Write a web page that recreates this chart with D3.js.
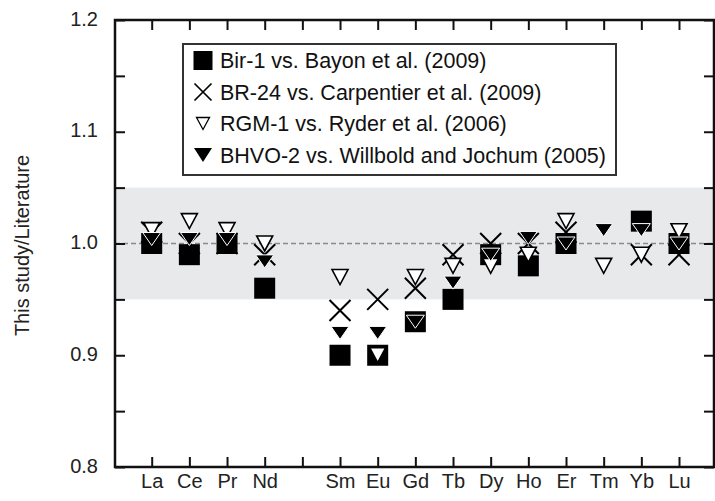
<!DOCTYPE html>
<html>
<head>
<meta charset="utf-8">
<script src="https://cdn.jsdelivr.net/npm/d3@7"></script>
<style>
  html, body { margin: 0; padding: 0; background: #fff; }
  svg { display: block; font-family: "Liberation Sans", Arial, sans-serif; }
</style>
</head>
<body>
<svg id="chart" width="715" height="501"></svg>
<script>
// ---- data ----
const categories = ["La","Ce","Pr","Nd","Pm","Sm","Eu","Gd","Tb","Dy","Ho","Er","Tm","Yb","Lu"];
const tickLabels = ["La","Ce","Pr","Nd","","Sm","Eu","Gd","Tb","Dy","Ho","Er","Tm","Yb","Lu"];
const bir1   = [1.00, 0.99, 1.00, 0.96, null, 0.90, 0.90, 0.93, 0.95, 0.99, 0.98, 1.00, null, 1.02, 1.00];
const br24   = [1.01, 1.00, 1.00, 0.99, null, 0.94, 0.95, 0.96, 0.99, 1.00, 1.00, 1.01, null, 0.99, 0.99];
const rgm1   = [1.012, 1.02, 1.012, 1.00, null, 0.97, 0.90, 0.97, 0.98, 0.98, 0.99, 1.02, 0.98, 0.99, 1.011];
const bhvo2  = [1.004, 1.004, 1.004, 0.984, null, 0.92, 0.92, 0.93, 0.965, 0.99, 1.005, 1.00, 1.012, 1.012, 1.00];
const seriesNames = [
  "Bir-1 vs. Bayon et al. (2009)",
  "BR-24 vs. Carpentier et al. (2009)",
  "RGM-1 vs. Ryder et al. (2006)",
  "BHVO-2 vs. Willbold and Jochum (2005)"
];
const yTicks = [0.8, 0.9, 1.0, 1.1, 1.2];
const yMinorTicks = [0.8, 0.85, 0.9, 0.95, 1.0, 1.05, 1.1, 1.15, 1.2];
const bandRange = [0.95, 1.05];
const refValue = 1.0;

// ---- layout ----
const svg = d3.select("#chart");
const L = 115, R = 714, T = 20, B = 467;
const x = d3.scalePoint().domain(categories).range([151.7, 679]);
const y = d3.scaleLinear().domain([0.8, 1.2]).range([B, T]);

// band
svg.append("rect")
  .attr("x", L).attr("width", R - L)
  .attr("y", y(bandRange[1])).attr("height", y(bandRange[0]) - y(bandRange[1]))
  .attr("fill", "#e8e9eb");

// dashed reference line
svg.append("line")
  .attr("x1", L).attr("x2", R)
  .attr("y1", y(refValue)).attr("y2", y(refValue))
  .attr("stroke", "#8a8a8a").attr("stroke-width", 1.5)
  .attr("stroke-dasharray", "5,3");

// axes
const tickLen = 10;
const fmt = d => yTicks.some(t => Math.abs(t - d) < 1e-9) ? d3.format(".1f")(d) : "";

const gLeft = svg.append("g").attr("transform", `translate(${L},0)`)
  .call(d3.axisLeft(y).tickValues(yMinorTicks).tickSize(-tickLen).tickPadding(17).tickFormat(fmt));
const gRight = svg.append("g").attr("transform", `translate(${R},0)`)
  .call(d3.axisRight(y).tickValues(yMinorTicks).tickSize(-tickLen).tickFormat(""));
const gTop = svg.append("g").attr("transform", `translate(0,${T})`)
  .call(d3.axisTop(x).tickSize(-tickLen).tickFormat(""));
const gBottom = svg.append("g").attr("transform", `translate(0,${B})`)
  .call(d3.axisBottom(x).tickSize(-tickLen).tickPadding(0).tickFormat((d, i) => tickLabels[i]));

[gLeft, gRight, gTop, gBottom].forEach(g => {
  g.select(".domain").remove();
  g.selectAll(".tick line").attr("stroke", "#111").attr("stroke-width", 2);
});
gLeft.selectAll(".tick text")
  .attr("font-size", 20).attr("fill", "#222")
  .attr("dy", "0.26em");
gBottom.selectAll(".tick text")
  .attr("font-size", 20).attr("fill", "#222")
  .attr("y", 21).attr("dy", 0);

// frame
svg.append("path")
  .attr("d", `M${L},${T}H${R}V${B}H${L}Z`)
  .attr("fill", "none").attr("stroke", "#111").attr("stroke-width", 2.5);

// y axis title
svg.append("text")
  .attr("transform", `translate(29,${(T + B) / 2 + 2}) rotate(-90)`)
  .attr("text-anchor", "middle")
  .attr("font-size", 20).attr("fill", "#222")
  .text("This study/Literature");

// ---- markers ----
function idx(arr) { return arr.map((v, i) => ({ c: categories[i], v })).filter(d => d.v != null); }
function triPath(w, h) { return `M${-w/2},${-h/2}L${w/2},${-h/2}L0,${h/2}Z`; }
function xPath(s) { return `M${-s/2},${-s/2}L${s/2},${s/2}M${-s/2},${s/2}L${s/2},${-s/2}`; }

const gm = svg.append("g");
// squares
const sq = 21;
gm.append("g").selectAll("rect").data(idx(bir1)).join("rect")
  .attr("x", d => x(d.c) - sq / 2).attr("y", d => y(d.v) - sq / 2)
  .attr("width", sq).attr("height", sq).attr("fill", "#000");
// X
gm.append("g").selectAll("path").data(idx(br24)).join("path")
  .attr("transform", d => `translate(${x(d.c)},${y(d.v)})`)
  .attr("d", xPath(21)).attr("stroke", "#000").attr("stroke-width", 2).attr("fill", "none");
// open triangles
gm.append("g").selectAll("path").data(idx(rgm1)).join("path")
  .attr("transform", d => `translate(${x(d.c)},${y(d.v)})`)
  .attr("d", triPath(16, 15)).attr("fill", "#fff").attr("stroke", "#000").attr("stroke-width", 1.6)
  .attr("stroke-linejoin", "miter");
// filled triangles
gm.append("g").selectAll("path").data(idx(bhvo2)).join("path")
  .attr("transform", d => `translate(${x(d.c)},${y(d.v)})`)
  .attr("d", triPath(18, 13)).attr("fill", "#000").attr("stroke", "#fff").attr("stroke-width", 1);

// ---- legend ----
const lg = svg.append("g");
lg.append("rect").attr("x", 183).attr("y", 44).attr("width", 616 - 183).attr("height", 175 - 44)
  .attr("fill", "#fff").attr("stroke", "#333").attr("stroke-width", 2);
const rowY = [60.5, 92, 123.5, 155];
const symX = 203;
lg.append("rect").attr("x", symX - 9.5).attr("y", rowY[0] - 9.5).attr("width", 19).attr("height", 19).attr("fill", "#000");
lg.append("path").attr("transform", `translate(${symX},${rowY[1]})`).attr("d", xPath(17))
  .attr("stroke", "#000").attr("stroke-width", 1.7).attr("fill", "none");
lg.append("path").attr("transform", `translate(${symX},${rowY[2]})`).attr("d", triPath(13, 12))
  .attr("fill", "#fff").attr("stroke", "#000").attr("stroke-width", 1.3);
lg.append("path").attr("transform", `translate(${symX},${rowY[3]})`).attr("d", triPath(18, 14))
  .attr("fill", "#000");
lg.selectAll("text.lab").data(seriesNames).join("text").attr("class", "lab")
  .attr("x", 220).attr("y", (d, i) => rowY[i] + 7.5)
  .attr("font-size", 21.5).attr("fill", "#111")
  .text(d => d);
</script>
</body>
</html>
